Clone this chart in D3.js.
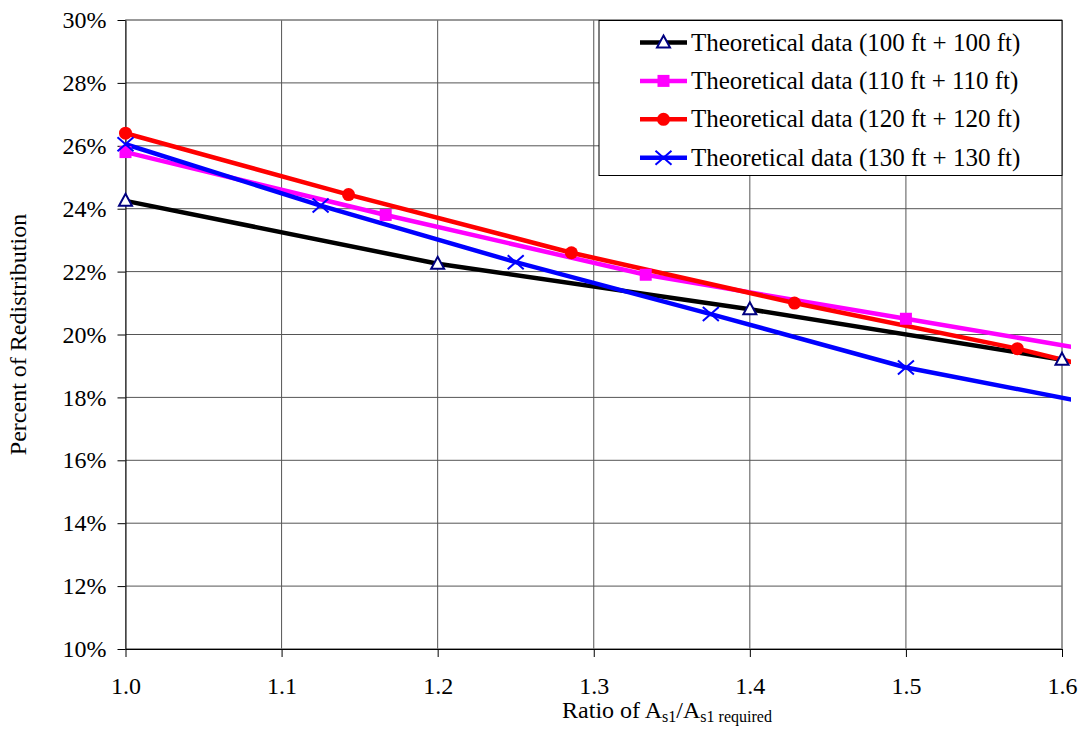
<!DOCTYPE html>
<html>
<head>
<meta charset="utf-8">
<script src="https://cdn.jsdelivr.net/npm/d3@7"></script>
<style>
body { margin: 0; background: #fff; }
svg { font-family: "Liberation Serif", "Times New Roman", serif; }
</style>
</head>
<body>
<script>
// values (percent of redistribution)
const seriesNames = ["Theoretical data (100 ft + 100 ft)", "Theoretical data (110 ft + 110 ft)",
                     "Theoretical data (120 ft + 120 ft)", "Theoretical data (130 ft + 130 ft)"];
const x100 = [1.0, 1.2, 1.4, 1.6];
const y100 = [24.25, 22.25, 20.8, 19.2];
const x110 = [1.0, 1.1667, 1.3333, 1.5, 1.6667];
const y110 = [25.8, 23.8, 21.9, 20.5, 19.1];
const x120 = [1.0, 1.1429, 1.2857, 1.4286, 1.5714, 1.7143];
const y120 = [26.4, 24.45, 22.6, 21.0, 19.55, 17.8];
const x130 = [1.0, 1.125, 1.25, 1.375, 1.5, 1.625];
const y130 = [26.05, 24.1, 22.3, 20.65, 18.95, 17.75];
const xTicks = [1.0, 1.1, 1.2, 1.3, 1.4, 1.5, 1.6];
const yTicks = [10, 12, 14, 16, 18, 20, 22, 24, 26, 28, 30];

const W = 1084, H = 734;
const margin = {left: 125.5, right: 22, top: 20, bottom: 85};
const width = W - margin.left - margin.right;
const height = H - margin.top - margin.bottom;

const svg = d3.select("body").append("svg")
    .attr("width", W).attr("height", H);

const g = svg.append("g")
    .attr("transform", "translate(" + margin.left + "," + margin.top + ")");

const xScale = d3.scaleLinear().domain([1.0, 1.6]).range([0, width]);
const yScale = d3.scaleLinear().domain([10, 30]).range([height, 0]);

// grid
g.selectAll(".hgrid").data(yTicks).enter().append("line")
    .attr("x1", 0).attr("x2", width)
    .attr("y1", d => yScale(d)).attr("y2", d => yScale(d))
    .attr("stroke", "#555").attr("stroke-width", 1);
g.selectAll(".vgrid").data(xTicks).enter().append("line")
    .attr("y1", 0).attr("y2", height)
    .attr("x1", d => xScale(d)).attr("x2", d => xScale(d))
    .attr("stroke", "#555").attr("stroke-width", 1);
g.append("rect").attr("width", width).attr("height", height)
    .attr("fill", "none").attr("stroke", "#888").attr("stroke-width", 1);

// axes
const xAxis = d3.axisBottom(xScale).tickValues(xTicks).tickFormat(d3.format(".1f"))
    .tickSizeOuter(0).tickSizeInner(8).tickPadding(20);
const yAxis = d3.axisLeft(yScale).tickValues(yTicks).tickFormat(d => d + "%")
    .tickSizeOuter(0).tickSizeInner(8).tickPadding(11);

g.append("g").attr("transform", "translate(0," + height + ")").call(xAxis)
    .call(a => a.selectAll("text").attr("font-size", 24).attr("fill", "#000").attr("font-family", "Liberation Serif"))
    .call(a => a.selectAll("line, path").attr("stroke", "#000"));
g.append("g").call(yAxis)
    .call(a => a.selectAll("text").attr("font-size", 24).attr("fill", "#000").attr("font-family", "Liberation Serif"))
    .call(a => a.selectAll("line, path").attr("stroke", "#000"));

// axis titles
const xt = svg.append("text").attr("x", 667).attr("y", 718)
    .attr("text-anchor", "middle").attr("font-size", 24);
xt.append("tspan").text("Ratio of A");
xt.append("tspan").attr("font-size", 16).attr("dy", 4).text("s1");
xt.append("tspan").attr("dy", -4).text("/A");
xt.append("tspan").attr("font-size", 16).attr("dy", 4).text("s1 required");

svg.append("text")
    .attr("transform", "translate(26," + (margin.top + height / 2) + ") rotate(-90)")
    .attr("text-anchor", "middle").attr("font-size", 24)
    .text("Percent of Redistribution");

// series
const series = [
  {xs: x100, ys: y100, color: "#000000", marker: "tri"},
  {xs: x110, ys: y110, color: "#FF00FF", marker: "sq"},
  {xs: x120, ys: y120, color: "#FF0000", marker: "circ"},
  {xs: x130, ys: y130, color: "#0000FF", marker: "x"}
];

svg.append("defs").append("clipPath").attr("id", "clip")
  .append("rect").attr("x", 0).attr("y", 0).attr("width", width + 9).attr("height", height);

const line = d3.line().x(d => xScale(d[0])).y(d => yScale(d[1]));

function drawMarker(sel, type, color) {
  if (type === "tri") {
    sel.append("path").attr("d", "M0,-7 L6.5,5 L-6.5,5 Z")
      .attr("fill", "#fff").attr("stroke", "#000080").attr("stroke-width", 2);
  } else if (type === "sq") {
    sel.append("rect").attr("x", -6).attr("y", -6).attr("width", 12).attr("height", 12)
      .attr("fill", color);
  } else if (type === "circ") {
    sel.append("circle").attr("r", 6.5).attr("fill", color);
  } else {
    sel.append("path").attr("d", "M-8,-7 L8,7 M-8,7 L8,-7")
      .attr("stroke", color).attr("stroke-width", 2).attr("fill", "none");
  }
}

series.forEach(s => {
  const pts = s.xs.map((x, i) => [x, s.ys[i]]);
  g.append("path").datum(pts)
    .attr("d", line).attr("fill", "none")
    .attr("stroke", s.color).attr("stroke-width", 4.5)
    .attr("clip-path", "url(#clip)");
});
series.forEach(s => {
  const pts = s.xs.map((x, i) => [x, s.ys[i]]).filter(p => p[0] <= 1.6001);
  pts.forEach(p => {
    const m = g.append("g").attr("transform", "translate(" + xScale(p[0]) + "," + yScale(p[1]) + ")");
    drawMarker(m, s.marker, s.color);
  });
});

// legend
const lg = svg.append("g").attr("transform", "translate(599,20.5)");
lg.append("rect").attr("width", 463).attr("height", 155)
  .attr("fill", "#fff").attr("stroke", "#000").attr("stroke-width", 1);
series.forEach((s, i) => {
  const yy = 22 + i * 38.4;
  lg.append("line").attr("x1", 41).attr("x2", 88).attr("y1", yy).attr("y2", yy)
    .attr("stroke", s.color).attr("stroke-width", 4.5);
  const m = lg.append("g").attr("transform", "translate(64.5," + yy + ")");
  drawMarker(m, s.marker, s.color);
  lg.append("text").attr("x", 92).attr("y", yy + 8).attr("font-size", 25)
    .text(seriesNames[i]);
});
</script>
</body>
</html>
